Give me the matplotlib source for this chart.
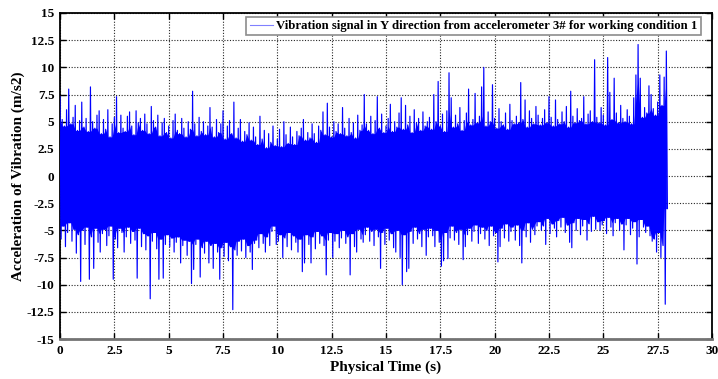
import numpy as np
import matplotlib
matplotlib.use("Agg")
import matplotlib.pyplot as plt


# positive / negative peaks of the Y-direction signal, one pair every 0.1 s
upper_peaks = [
    7.3, 5.2, 4.6, 6.1, 8.0, 4.8, 5.4, 6.5, 4.2, 5.1,
    6.8, 4.5, 5.3, 4.1, 8.2, 5.0, 4.4, 5.6, 6.0, 3.9,
    5.2, 4.3, 6.1, 3.6, 4.8, 5.4, 7.3, 4.0, 5.6, 4.4,
    4.1, 5.5, 5.9, 4.6, 3.8, 6.0, 4.9, 5.3, 4.2, 5.7,
    4.8, 3.9, 6.4, 5.1, 4.5, 5.6, 3.7, 4.9, 5.3, 4.0,
    4.6, 3.5, 5.1, 5.7, 4.2, 3.9, 5.3, 4.4, 3.6, 5.0,
    4.3, 7.8, 4.8, 3.7, 5.4, 4.1, 5.0, 3.8, 4.6, 6.3,
    4.5, 3.6, 5.2, 4.0, 4.8, 6.0, 3.4, 4.6, 5.1, 3.9,
    6.8, 3.5, 4.4, 5.2, 3.2, 4.1, 3.8, 4.9, 3.3, 4.5,
    3.6, 2.9, 5.5, 3.4, 4.2, 2.6, 3.9, 3.1, 4.6, 2.8,
    3.4, 4.3, 2.7, 5.0, 3.8, 3.0, 4.5, 3.6, 2.9, 4.1,
    3.7, 4.4, 5.2, 3.3, 4.0, 3.5, 4.8, 3.9, 3.1, 4.6,
    4.2, 5.9, 3.8, 6.7, 4.5, 3.6, 5.0, 4.1, 4.8, 3.9,
    6.3, 4.4, 3.7, 5.3, 4.0, 4.9, 3.5, 5.6, 4.2, 4.7,
    7.5, 4.8, 4.2, 5.5, 3.9, 5.1, 7.3, 4.4, 5.7, 4.0,
    4.6, 5.3, 6.6, 4.1, 5.0, 4.5, 5.8, 7.2, 4.3, 6.5,
    4.7, 5.5, 4.0, 6.1, 4.9, 5.3, 4.2, 5.9, 4.6, 5.0,
    5.4, 4.3, 7.5, 5.0, 8.7, 4.6, 5.7, 4.1, 6.0, 9.5,
    7.2, 4.5, 5.6, 4.8, 6.3, 4.2, 5.1, 5.8, 8.0, 4.7,
    5.2, 7.6, 4.9, 5.5, 8.2, 10.0, 4.6, 5.9, 5.0, 8.4,
    5.3, 4.4, 6.2, 5.0, 4.7, 5.8, 4.3, 6.6, 5.1, 4.8,
    5.5, 4.9, 8.6, 5.2, 7.0, 4.5, 6.0, 5.3, 4.8, 6.4,
    5.6, 4.7, 5.3, 6.1, 4.9, 7.3, 5.4, 4.6, 7.0, 5.2,
    4.8, 5.9, 5.0, 6.4, 4.5, 7.8, 5.5, 4.9, 6.2, 5.1,
    5.3, 7.3, 4.8, 5.7, 6.0, 5.0, 10.7, 5.4, 4.9, 6.3,
    5.6, 4.7, 10.9, 7.7, 5.2, 9.0, 5.8, 4.9, 6.5, 5.3,
    5.0, 6.1, 5.5, 4.8, 7.2, 9.3, 12.1, 9.0, 5.4, 6.3,
    5.8, 8.3, 7.5, 6.2, 5.6, 6.8, 9.3, 6.5, 9.1, 11.5,
]

lower_peaks = [
    -5.8, -4.6, -6.5, -5.2, -4.3, -6.0, -4.9, -7.1, -5.4, -9.7,
    -5.0, -6.3, -4.7, -9.5, -5.6, -8.5, -4.8, -6.1, -7.0, -5.3,
    -4.9, -6.4, -5.5, -4.6, -9.5, -5.8, -6.6, -4.8, -5.2, -7.0,
    -5.6, -4.7, -6.2, -5.1, -5.9, -9.4, -4.8, -6.5, -5.3, -6.8,
    -5.5, -11.3, -6.0, -5.2, -6.7, -9.5, -5.8, -9.4, -6.3, -5.4,
    -6.5, -5.7, -7.0, -6.1, -5.6, -8.0, -6.4, -5.9, -7.3, -6.0,
    -9.9, -8.6, -6.3, -5.8, -9.3, -6.6, -7.1, -6.0, -8.0, -6.4,
    -8.5, -6.2, -7.0, -9.5, -6.6, -7.4, -6.1, -7.8, -6.5, -12.3,
    -6.8, -7.3, -6.0, -6.9, -5.8, -7.5, -6.4, -7.0, -8.6, -6.2,
    -5.9, -6.6, -5.3, -6.2, -7.0, -5.6, -6.4, -5.1, -4.6, -6.3,
    -6.0, -5.4, -7.5, -5.7, -6.5, -5.2, -6.8, -5.5, -6.1, -7.0,
    -5.8, -8.8, -8.0, -5.4, -6.3, -8.0, -5.6, -6.7, -5.1, -6.2,
    -5.5, -6.4, -9.1, -5.9, -5.2, -7.5, -6.0, -5.3, -6.6, -5.7,
    -5.0, -6.2, -5.6, -9.1, -5.3, -6.5, -7.0, -4.9, -5.8, -6.1,
    -5.4, -4.7, -6.0, -5.1, -6.4, -4.9, -5.6, -8.5, -5.2, -6.3,
    -4.8, -5.9, -5.3, -6.6, -7.0, -5.0, -7.5, -10.0, -5.4, -8.8,
    -8.5, -5.1, -6.2, -4.7, -5.8, -5.3, -6.5, -4.9, -7.3, -5.6,
    -4.8, -5.5, -6.5, -5.0, -6.1, -8.3, -7.8, -5.2, -7.6, -5.7,
    -4.6, -5.9, -5.2, -6.3, -4.9, -7.7, -6.5, -5.4, -4.8, -6.0,
    -5.1, -4.5, -6.2, -5.3, -4.7, -5.8, -5.0, -6.4, -4.6, -5.5,
    -5.2, -7.9, -6.5, -4.8, -5.7, -4.4, -6.0, -5.1, -4.7, -5.9,
    -4.5, -6.4, -8.0, -5.0, -5.6, -4.3, -6.1, -4.9, -5.4, -4.6,
    -4.2, -5.0, -4.6, -6.3, -3.9, -5.3, -4.4, -4.8, -5.6, -4.1,
    -4.7, -3.8, -5.2, -4.5, -6.1, -6.6, -4.3, -5.0, -3.9, -5.4,
    -4.6, -4.0, -5.9, -4.4, -5.1, -3.7, -4.9, -4.2, -5.0, -4.5,
    -4.1, -5.3, -3.8, -4.7, -5.5, -4.3, -3.9, -5.0, -4.4, -6.8,
    -4.5, -3.9, -5.4, -4.8, -4.2, -8.1, -5.6, -4.0, -4.7, -5.2,
    -4.6, -5.5, -6.0, -5.8, -7.0, -5.2, -7.5, -6.4, -11.8, -3.0,
]

peak_step = 0.1  # s between successive positive peaks

x_ticks = [0, 2.5, 5, 7.5, 10, 12.5, 15, 17.5, 20, 22.5, 25, 27.5, 30]
y_ticks = [-15, -12.5, -10, -7.5, -5, -2.5, 0, 2.5, 5, 7.5, 10, 12.5, 15]

legend_label = "Vibration signal in Y direction from accelerometer 3# for working condition 1"


# interleave the positive and negative peaks into one trace
up = np.array(upper_peaks)
lo = np.array(lower_peaks)
n = len(up)
t_up = np.arange(n) * peak_step
time = np.empty(2 * n)
accel = np.empty(2 * n)
time[0::2] = t_up
time[1::2] = t_up + peak_step / 2
accel[0::2] = up
accel[1::2] = lo

# dense part of the band = what all neighbouring peaks reach
up_pad = np.pad(up, 1, mode="edge")
lo_pad = np.pad(lo, 1, mode="edge")
core_up = np.min([up_pad[:-2], up_pad[1:-1], up_pad[2:]], axis=0)
core_lo = np.max([lo_pad[:-2], lo_pad[1:-1], lo_pad[2:]], axis=0)

plt.rcParams["font.family"] = ["Liberation Serif", "DejaVu Serif"]
plt.rcParams["font.weight"] = "bold"
plt.rcParams["path.simplify"] = False

fig = plt.figure(figsize=(7.18, 3.79), dpi=100)
ax = fig.add_axes([0.0836, 0.1055, 0.9080, 0.8602])

ax.fill_between(t_up, core_lo, core_up, color="#0000FF", lw=0, zorder=3)
ax.plot(time, accel, color="#0000FF", lw=0.85, label=legend_label, zorder=3)

ax.set_xlim(0, 30)
ax.set_ylim(-15, 15)
ax.set_xticks(x_ticks)
ax.set_yticks(y_ticks)
ax.set_xticklabels([f"{v:g}" for v in x_ticks])
ax.set_yticklabels([f"{v:g}" for v in y_ticks])
ax.tick_params(direction="in", length=4, width=1, labelsize=9.5,
               top=True, right=True, pad=4)
for lab in ax.get_xticklabels() + ax.get_yticklabels():
    lab.set_fontweight("bold")

ax.grid(True, color="0.15", linestyle=(0, (1, 1.5)), lw=0.8, zorder=1)
ax.set_axisbelow(True)

for side in ["left", "top", "right"]:
    ax.spines[side].set_color("black")
    ax.spines[side].set_linewidth(1.3)
ax.spines["bottom"].set_color("0.45")
ax.spines["bottom"].set_linewidth(2)

ax.set_xlabel("Physical Time (s)", fontsize=11, fontweight="bold", labelpad=3)
ax.set_ylabel("Acceleration of Vibration (m/s2)", fontsize=11, fontweight="bold", labelpad=1)

leg = ax.legend(loc="upper right", bbox_to_anchor=(0.983, 0.988), fontsize=9.2,
                frameon=True, fancybox=False, handlelength=1.8, handletextpad=0.3,
                borderpad=0.25, borderaxespad=0)
leg.get_frame().set_edgecolor("0.55")
leg.get_frame().set_linewidth(1.2)
leg.get_frame().set_alpha(1)
for txt in leg.get_texts():
    txt.set_fontweight("bold")
for h in leg.legend_handles:
    h.set_color("#8080ff")
    h.set_linewidth(0.8)

fig.savefig("out.png", dpi=100)
